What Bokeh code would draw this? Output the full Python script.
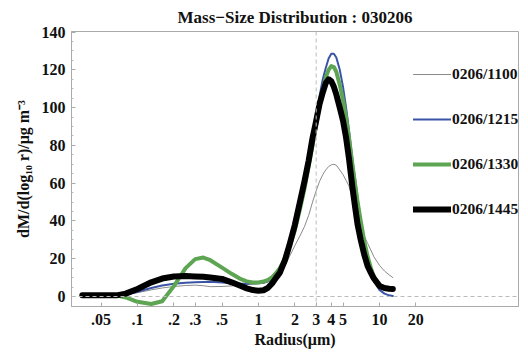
from bokeh.plotting import figure
from bokeh.models import Span, FixedTicker, Legend, LegendItem, Range1d
from bokeh.embed import file_html
from bokeh.resources import INLINE

# Radius (um) sample points
radius = [0.035, 0.05, 0.067, 0.08, 0.1, 0.13, 0.16, 0.2, 0.25, 0.3, 0.35, 0.4, 0.5, 0.6,
          0.7, 0.8, 0.9, 1.0, 1.1, 1.2, 1.3, 1.4, 1.5, 1.65, 1.8, 2.0, 2.2, 2.4, 2.6, 2.8,
          3.0, 3.2, 3.4, 3.6, 3.8, 4.0, 4.2, 4.4, 4.7, 5.0, 5.3, 5.6, 6.0, 6.3, 6.6, 7.0,
          7.5, 8.0, 8.5, 9.0, 10.0, 11.0, 12.0, 12.9]

s1100 = [0.6, 0.6, 0.6, 1.0, 2.0, 3.5, 4.5, 5.3, 5.8, 6.0, 5.7, 5.2, 5.3, 5.6,
         6.0, 6.3, 6.5, 6.7, 7.0, 7.8, 9.0, 10.5, 12.0, 16.0, 21.0, 27.0, 32.0, 37.0, 43.0, 50.0,
         56.0, 61.0, 64.5, 67.0, 68.8, 69.7, 70.0, 69.5, 67.0, 64.5, 61.5, 58.5, 52.0, 48.0, 43.0, 38.0,
         32.0, 28.0, 24.5, 21.0, 16.5, 13.5, 11.5, 10.0]

s1215 = [0.6, 0.6, 0.6, 1.0, 2.5, 4.5, 5.8, 6.8, 7.3, 7.6, 7.7, 7.8, 7.4, 7.0,
         6.8, 6.8, 7.0, 7.1, 7.3, 8.0, 9.0, 11.0, 13.5, 20.0, 27.0, 37.0, 48.0, 60.0, 72.0, 84.0,
         96.0, 106.0, 115.0, 121.0, 126.0, 128.5, 128.5, 126.5, 120.0, 111.0, 100.0, 88.0, 72.0, 62.0, 52.0, 40.0,
         28.0, 19.0, 13.0, 8.5, 3.5, 1.5, 0.6, 0.3]

s1330 = [0.6, 0.6, 0.6, -0.5, -2.8, -4.0, -2.5, 5.5, 15.0, 19.8, 20.6, 19.2, 15.3, 12.0,
         9.5, 8.0, 7.4, 7.4, 7.9, 8.8, 10.3, 12.5, 15.0, 20.0, 26.0, 35.0, 46.0, 57.0, 69.0, 80.0,
         91.0, 101.0, 109.0, 116.0, 120.0, 122.0, 121.5, 119.0, 112.0, 104.0, 95.0, 84.0, 69.0, 59.0, 50.0, 40.0,
         29.0, 21.0, 15.0, 10.5, 6.2, 4.6, 4.2, 4.0]

s1445 = [0.6, 0.6, 0.6, 1.5, 4.0, 7.5, 9.5, 10.6, 10.8, 10.6, 10.4, 10.1, 9.3, 7.5,
         5.8, 4.3, 3.4, 3.0, 3.3, 4.6, 7.0, 10.0, 12.5, 19.0, 27.0, 38.0, 50.0, 61.0, 72.0, 84.0,
         93.0, 102.0, 108.0, 113.0, 115.0, 114.0, 111.0, 107.0, 100.0, 93.0, 84.0, 73.0, 57.0, 47.0, 38.0, 30.0,
         22.0, 16.0, 12.5, 9.5, 5.6, 4.5, 4.1, 4.0]

labels = ["0206/1100", "0206/1215", "0206/1330", "0206/1445"]
x_ticks = [0.05, 0.1, 0.2, 0.3, 0.5, 1, 2, 3, 4, 5, 10, 20]
x_tick_labels = [".05", ".1", ".2", ".3", ".5", "1", "2", "3", "4", "5", "10", "20"]
y_ticks = [0, 20, 40, 60, 80, 100, 120, 140]

FONT = "Liberation Serif"

p = figure(width=528, height=358, x_axis_type="log",
           x_range=Range1d(0.0285, 141), y_range=Range1d(-5.3, 140.3),
           output_backend="svg", toolbar_location=None,
           min_border_left=71, min_border_right=10, min_border_top=31, min_border_bottom=52)

p.title.text = "Mass\u2212Size Distribution : 030206"
p.title.align = "center"
p.title.text_font = FONT
p.title.text_font_style = "bold"
p.title.text_font_size = "17px"
p.title.text_color = "#111"

p.grid.visible = False
p.outline_line_color = "#aaaaaa"
p.background_fill_color = "white"
p.border_fill_color = "white"

# dashed reference lines
p.add_layout(Span(location=0, dimension="width", line_color="#bbbbbb", line_dash="4 3", line_width=1))
p.add_layout(Span(location=3, dimension="height", line_color="#bbbbbb", line_dash="4 3", line_width=1))

colors = ["#8a8a8a", "#3b55a6", "#5da552", "#000000"]
widths = [1, 2, 4, 6]
series = [s1100, s1215, s1330, s1445]
renderers = []
for s, c, w in zip(series, colors, widths):
    r = p.line(radius, s, line_color=c, line_width=w, line_join="round", line_cap="round")
    renderers.append(r)

# axes
p.xaxis.ticker = FixedTicker(ticks=x_ticks, minor_ticks=[])
p.xaxis.major_label_overrides = {t: l for t, l in zip(x_ticks, x_tick_labels)}
p.yaxis.ticker = FixedTicker(ticks=y_ticks, minor_ticks=[v for v in range(0, 141, 5) if v % 20])
p.xaxis.axis_label = "Radius(\u03bcm)"
p.yaxis.axis_label = "dM/d(log\u2081\u2080 r)/\u03bcg m\u207b\u00b3"
for ax in [p.xaxis[0], p.yaxis[0]]:
    ax.axis_line_color = "#aaaaaa"
    ax.major_tick_line_color = "#aaaaaa"
    ax.minor_tick_line_color = "#bbbbbb"
    ax.major_tick_in = 4
    ax.major_tick_out = 0
    ax.minor_tick_in = 2
    ax.minor_tick_out = 0
    ax.major_label_text_font = FONT
    ax.major_label_text_font_style = "bold"
    ax.major_label_text_font_size = "16px"
    ax.major_label_text_color = "#111"
    ax.axis_label_text_font = FONT
    ax.axis_label_text_font_style = "bold"
    ax.axis_label_text_font_size = "16px"
    ax.axis_label_text_color = "#111"
p.xaxis.major_label_standoff = 7
p.xaxis.axis_label_standoff = 3
p.yaxis.major_label_standoff = 6
p.yaxis.axis_label_standoff = 7

legend = Legend(items=[LegendItem(label=l, renderers=[r]) for l, r in zip(labels, renderers)])
legend.location = (342, 87)
legend.padding = 0
legend.margin = 0
legend.spacing = 25
legend.glyph_width = 38
legend.glyph_height = 20
legend.label_height = 20
legend.label_standoff = 1
legend.label_text_font = FONT
legend.label_text_font_style = "bold"
legend.label_text_font_size = "15.5px"
legend.label_text_color = "#111"
legend.background_fill_alpha = 0
legend.border_line_alpha = 0
p.add_layout(legend)

open("out.html", "w").write(file_html(p, INLINE))
